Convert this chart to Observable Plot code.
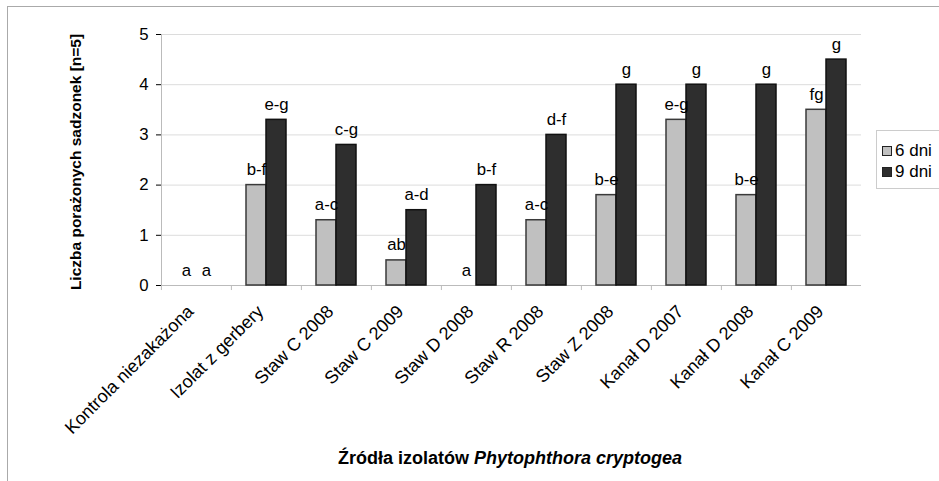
<!DOCTYPE html>
<html><head><meta charset="utf-8">
<script src="https://cdn.jsdelivr.net/npm/d3@7"></script>
<script src="https://cdn.jsdelivr.net/npm/@observablehq/plot@0.6"></script>
<style>
body{margin:0;background:#fff;font-family:"Liberation Sans",Arial,sans-serif;color:#000;}
#wrap{position:relative;width:939px;height:481px;overflow:hidden;}
#border{position:absolute;left:7px;top:6px;width:940px;height:480px;border-top:1.5px solid #aaa;border-left:1.5px solid #aaa;}
#chart{position:absolute;left:0;top:0;}
#ytitle{position:absolute;left:76px;top:162px;transform:translate(-50%,-50%) rotate(-90deg);white-space:nowrap;font-weight:bold;font-size:15.5px;}
#xtitle{position:absolute;left:510px;top:448px;transform:translateX(-50%);white-space:nowrap;font-weight:bold;font-size:18px;}
#legend{position:absolute;left:876px;top:130px;width:80px;height:57px;border:1px solid #ccc;background:#fff;font-size:17px;}
.item{position:absolute;left:5px;display:flex;align-items:center;gap:3px;line-height:17px;}
.sw{width:8px;height:8px;border:1px solid #222;display:inline-block;}
#chart svg text{font-size:16.8px;}
#chart svg g[aria-label="fx-axis tick label"] text{font-size:18px;}
g[aria-label="y-axis tick"]{stroke:#bbb;}
</style></head>
<body><div id="wrap"><div id="border"></div><div id="chart"></div>
<div id="ytitle">Liczba porażonych sadzonek [n=5]</div>
<div id="xtitle">Źródła izolatów <i>Phytophthora cryptogea</i></div>
<div id="legend"></div></div>
<script>
const categories = ["Kontrola niezakażona","Izolat z gerbery","Staw C 2008","Staw C 2009","Staw D 2008","Staw R 2008","Staw Z 2008","Kanał D 2007","Kanał D 2008","Kanał C 2009"];
const series = ["6 dni","9 dni"];
const values6 = [0,2.0,1.3,0.5,0,1.3,1.8,3.3,1.8,3.5];
const values9 = [0,3.3,2.8,1.5,2.0,3.0,4.0,4.0,4.0,4.5];
const letters6 = ["a","b-f","a-c","ab","a","a-c","b-e","e-g","b-e","fg"];
const letters9 = ["a","e-g","c-g","a-d","b-f","d-f","g","g","g","g"];
const yTicks = [0,1,2,3,4,5];
const fills = ["#c0c0c0","#2e2e2e"];
const strokes = ["#3a3a3a","#111111"];

const rows = [];
categories.forEach((c,i)=>{
  rows.push({cat:c, series:series[0], value:values6[i], letter:letters6[i]});
  rows.push({cat:c, series:series[1], value:values9[i], letter:letters9[i]});
});

const chart = Plot.plot({
  width:939, height:481,
  marginLeft:160, marginRight:77, marginTop:34, marginBottom:196,
  style:{fontFamily:"Liberation Sans, Arial, sans-serif", fontSize:"16.8px", color:"#000", background:"transparent", overflow:"visible"},
  fx:{domain:categories, padding:0, label:null},
  x:{domain:series, paddingInner:0, paddingOuter:0.67, axis:null},
  y:{domain:[0,5], ticks:yTicks, tickFormat:d3.format("d"), tickSize:5, tickPadding:8, label:null},
  color:{domain:series, range:fills},
  marks:[
    Plot.ruleY(yTicks, {stroke:"#dcdcdc"}),
    Plot.ruleY([0], {stroke:"#bbb"}),
    Plot.ruleX(categories, {fx:d=>d, x:null, y1:0, y2:-0.1, dx:-702/20, stroke:"#bbb"}),
    Plot.frame({anchor:"left", stroke:"#bbb", fx:()=>categories[0]}),
    Plot.barY(rows.filter(d=>d.value>0), {fx:"cat", x:"series", y:"value", fill:"series", stroke:d=>strokes[series.indexOf(d.series)], strokeWidth:1.5}),
    Plot.text(rows, {fx:"cat", x:"series", y:"value", text:"letter", lineAnchor:"bottom", dy:-10}),
    Plot.axisFx({anchor:"bottom", tickRotate:-45, tickSize:0, tickPadding:23, dx:-6, label:null})
  ]
});
document.getElementById("chart").appendChild(chart);

const lg = document.getElementById("legend");
series.forEach((s,i)=>{
  const it = document.createElement("div");
  it.className="item"; it.style.top = (11 + i*21)+"px";
  const sw = document.createElement("span"); sw.className="sw"; sw.style.background=fills[i];
  const t = document.createElement("span"); t.textContent = s;
  it.appendChild(sw); it.appendChild(t); lg.appendChild(it);
});
</script></body></html>
